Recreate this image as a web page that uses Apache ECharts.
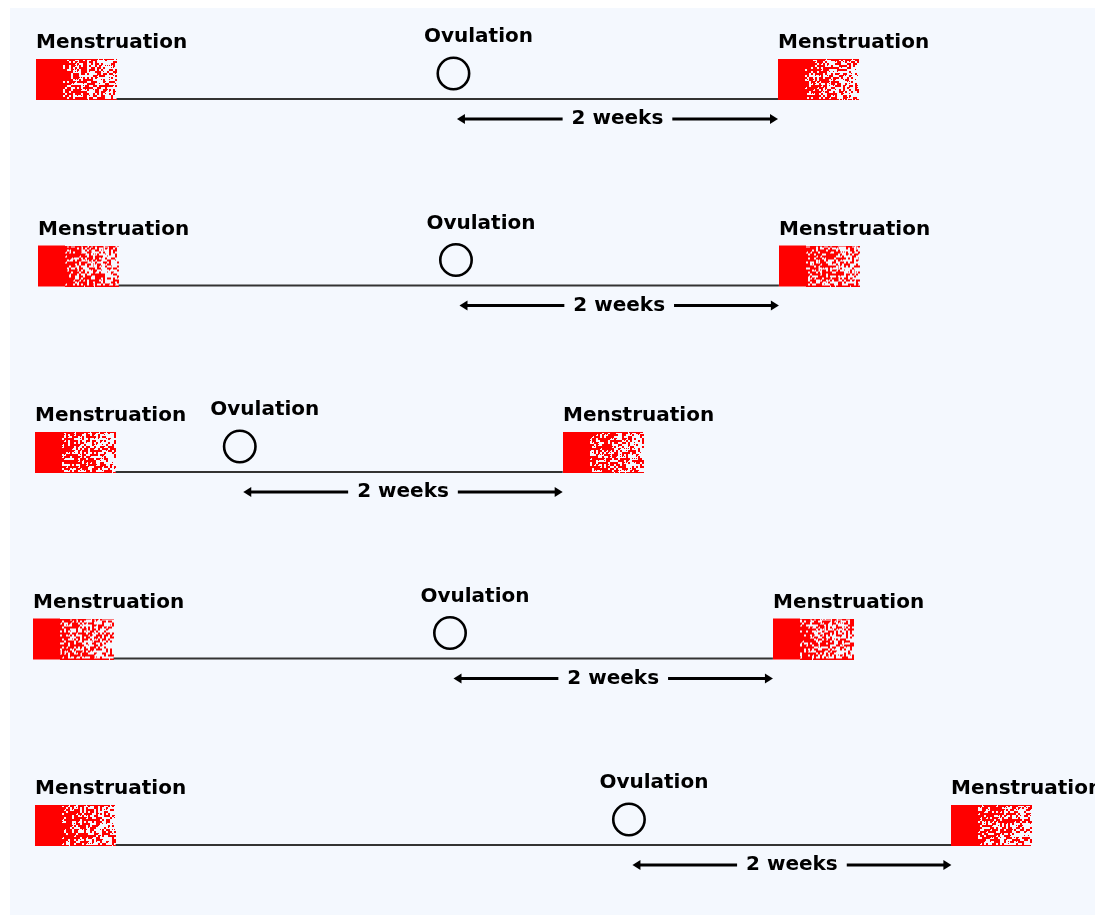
<!DOCTYPE html>
<html>
<head>
<meta charset="utf-8">
<script src="https://cdn.jsdelivr.net/npm/echarts@6/dist/echarts.min.js"></script>
<style>
  html, body { margin: 0; padding: 0; background: #ffffff; }
  #chart { width: 1095px; height: 915px; }
</style>
</head>
<body>
<div id="chart"></div>
<script>
// ---- data (days) ----
const cycles = ['Cycle 1', 'Cycle 2', 'Cycle 3', 'Cycle 4', 'Cycle 5'];
const cycleStart = [0, 0.09, -0.04, -0.13, -0.04];
const ovulationDay = [18.15, 18.26, 8.86, 18.0, 25.78];
const nextPeriodDay = [32.26, 32.3, 22.9, 32.04, 39.8];
const periodDays = 3.5;      // length of the menstruation block
const heavyDays = 1.17;      // solid part of the block
const periodLabel = 'Menstruation';
const ovulationLabel = 'Ovulation';
const lutealLabel = '2 weeks';

// ---- decorative speckle texture (deterministic hash, not data) ----
function hash(x, y, s) {
  let n = Math.imul(x, 374761393) + Math.imul(y, 668265263) + Math.imul(s, 982451653);
  n = Math.imul(n ^ (n >>> 13), 1274126177);
  n = n ^ (n >>> 16);
  return (n >>> 0) / 4294967296;
}
const speckleCache = {};
function speckle(w, h, seed) {
  const key = w + 'x' + h + ':' + seed;
  if (speckleCache[key]) return speckleCache[key];
  const c = document.createElement('canvas');
  c.width = w; c.height = h;
  const ctx = c.getContext('2d');
  ctx.fillStyle = '#ff0000';
  const g = 2;
  for (let y = 0; y < h; y += g) {
    for (let x = 0; x < w; x += g) {
      const t = x / (w - 1);
      const p = 0.72 - 0.42 * t;
      if (hash(x, y, seed) < p) ctx.fillRect(x, y, g, g);
      else if (hash(x + 1, y + 7, seed) < p * 0.5) ctx.fillRect(x, y, 1, 1);
    }
  }
  // thin red edges at top and bottom
  for (let x = 0; x < w; x++) {
    if (hash(x, 999, seed) < 0.85) ctx.fillRect(x, 0, 1, 1);
    if (hash(x, 777, seed) < 0.9) ctx.fillRect(x, h - 1, 1, 1);
  }
  speckleCache[key] = c;
  return c;
}

const FONT = 'bold 20px "DejaVu Sans", sans-serif';
const mctx = document.createElement('canvas').getContext('2d');
mctx.font = FONT;
const lutealW = mctx.measureText(lutealLabel).width;

const data = cycles.map((c, i) => [cycleStart[i], i, ovulationDay[i], nextPeriodDay[i]]);

function renderItem(params, api) {
  const idx = params.dataIndex;
  const start = api.coord([api.value(0), api.value(1)]);
  const ov = api.coord([api.value(2), api.value(1)]);
  const next = api.coord([api.value(3), api.value(1)]);
  const baseY = start[1];
  const blockW = api.size([periodDays, 0])[0];
  const solidW = api.size([heavyDays, 0])[0];
  const blockH = 41;
  const children = [];

  function block(x0, seed) {
    children.push({
      type: 'rect',
      shape: { x: Math.round(x0), y: baseY - 40, width: Math.round(solidW), height: blockH },
      style: { fill: '#ff0000' }
    });
    const sw = Math.round(blockW - solidW);
    children.push({
      type: 'image',
      style: {
        image: speckle(sw, blockH, seed),
        x: Math.round(x0) + Math.round(solidW), y: baseY - 40, width: sw, height: blockH
      }
    });
    children.push({
      type: 'text',
      style: {
        text: periodLabel, x: Math.round(x0), y: baseY - 56,
        font: FONT, fill: '#000', align: 'left', verticalAlign: 'middle'
      }
    });
  }

  // baseline
  children.push({
    type: 'line',
    shape: { x1: start[0] + blockW, y1: baseY, x2: next[0], y2: baseY },
    style: { stroke: '#333333', lineWidth: 2 }
  });
  block(start[0], idx * 2 + 1);
  block(next[0], idx * 2 + 2);

  // ovulation
  children.push({
    type: 'circle',
    shape: { cx: ov[0], cy: baseY - 25.5, r: 15.7 },
    style: { fill: null, stroke: '#000', lineWidth: 2.6 }
  });
  children.push({
    type: 'text',
    style: {
      text: ovulationLabel, x: ov[0] + 25, y: baseY - 62,
      font: FONT, fill: '#000', align: 'center', verticalAlign: 'middle'
    }
  });

  // 2-week arrow
  const ay = baseY + 20;
  const x1 = ov[0] + 3.5;
  const x2 = next[0];
  const mid = (x1 + x2) / 2;
  const gap = 9;
  const tl = mid - lutealW / 2 - gap;
  const tr = mid + lutealW / 2 + gap;
  children.push({
    type: 'line', shape: { x1: x1 + 5, y1: ay, x2: tl, y2: ay },
    style: { stroke: '#000', lineWidth: 3 }
  });
  children.push({
    type: 'line', shape: { x1: tr, y1: ay, x2: x2 - 5, y2: ay },
    style: { stroke: '#000', lineWidth: 3 }
  });
  children.push({
    type: 'polygon', shape: { points: [[x1, ay], [x1 + 8, ay - 5], [x1 + 8, ay + 5]] },
    style: { fill: '#000' }
  });
  children.push({
    type: 'polygon', shape: { points: [[x2, ay], [x2 - 8, ay - 5], [x2 - 8, ay + 5]] },
    style: { fill: '#000' }
  });
  children.push({
    type: 'text',
    style: {
      text: lutealLabel, x: mid, y: ay,
      font: FONT, fill: '#000', align: 'center', verticalAlign: 'middle'
    }
  });

  return { type: 'group', children };
}

const chart = echarts.init(document.getElementById('chart'), null, { renderer: 'canvas' });
chart.setOption({
  backgroundColor: '#ffffff',
  animation: false,
  graphic: [{
    type: 'rect', left: 10, top: 8, z: -10,
    shape: { width: 1085, height: 907 },
    style: { fill: '#f4f8fe' }
  }],
  grid: { left: 13, right: 24, top: 99, bottom: 70 },
  xAxis: { type: 'value', min: -1, max: 45, show: false },
  yAxis: { type: 'category', data: cycles, inverse: true, boundaryGap: false, show: false },
  series: [{
    type: 'custom',
    renderItem: renderItem,
    data: data,
    encode: { x: 0, y: 1 },
    clip: false
  }]
});
</script>
</body>
</html>
